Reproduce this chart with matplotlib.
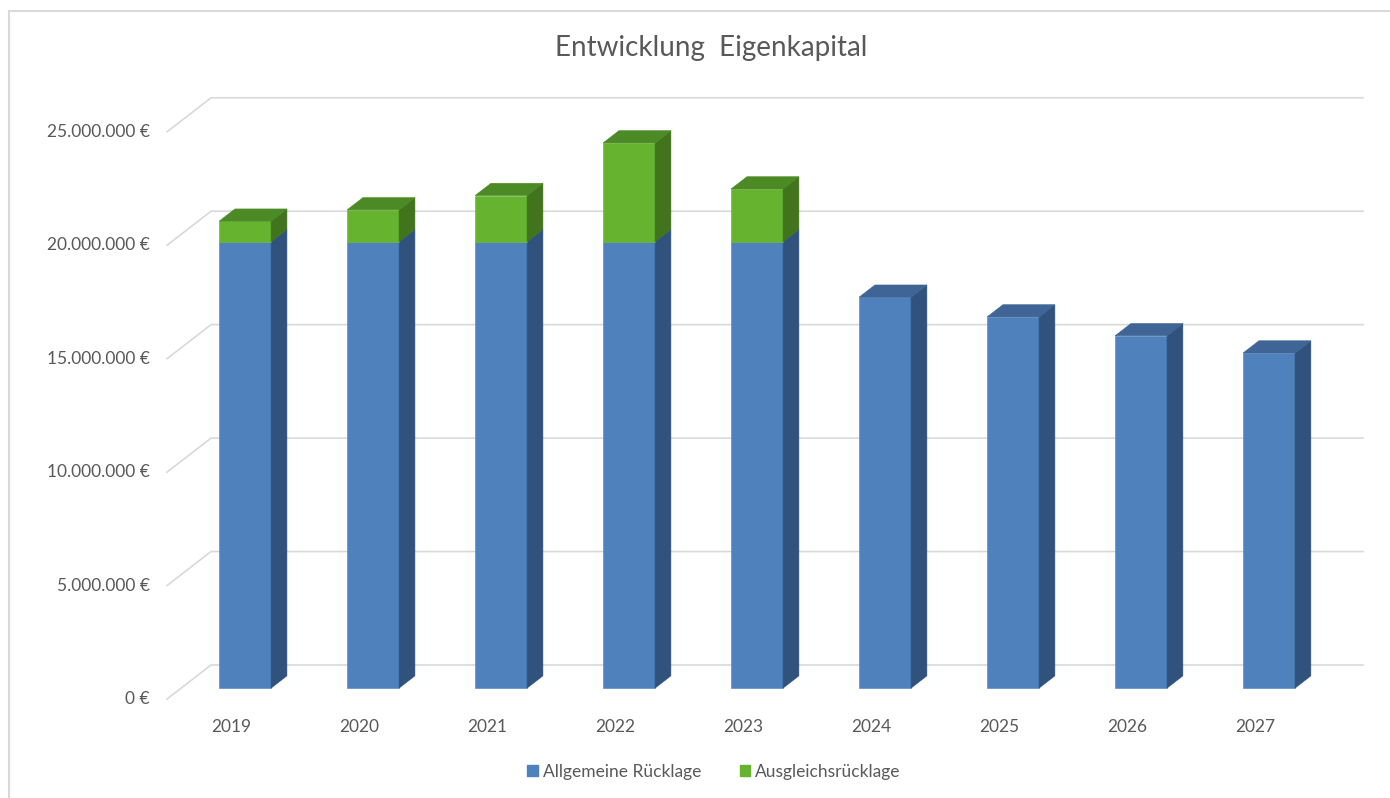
import matplotlib.pyplot as plt
from matplotlib.patches import Polygon, Rectangle, Patch

plt.rcParams['font.family'] = ['Lato', 'DejaVu Sans']

# data (euros)
years = ["2019", "2020", "2021", "2022", "2023", "2024", "2025", "2026", "2027"]
allgemeine = [19680000, 19680000, 19680000, 19680000, 19680000,
              17230000, 16360000, 15530000, 14770000]
ausgleich = [900000, 1400000, 2030000, 4350000, 2320000, 0, 0, 0, 0]
ticks = [0, 5000000, 10000000, 15000000, 20000000, 25000000]
tick_labels = ["0 €", "5.000.000 €", "10.000.000 €", "15.000.000 €",
               "20.000.000 €", "25.000.000 €"]

text_col = "#595959"
grid_col = "#d9d9d9"
blue = ("#4F81BD", "#31527C", "#3E6596")    # front, side, top
green = ("#65B32E", "#41741D", "#4C8A25")

# oblique "3d" depth vector, per unit of depth
kx = 0.34375
ky = 1.5e6
bw = 0.406
d0, d1 = 0.32, 0.68

fig = plt.figure(figsize=(13.9, 7.98), dpi=100)
ax = fig.add_axes([0, 0, 1, 1])
ax.set_xlim(-1.805, 9.055)
ax.set_ylim(-4.363e6, 30.81e6)
ax.axis('off')

# gridlines: left wall + back wall
xl, xr = -0.5, len(years) - 0.5
for v in ticks:
    ax.plot([xl, xl + kx, xr + kx], [v, v + ky, v + ky],
            color=grid_col, lw=1.2, zorder=1, solid_joinstyle='miter')
for v, lab in zip(ticks, tick_labels):
    ax.text(xl - 0.133, v, lab, ha='right', va='center', fontsize=12.5, color=text_col)


def box(c, v0, v1, cols, top=True):
    xa = c - bw / 2
    xb = c + bw / 2
    front = [(xa + d0 * kx, v0 + d0 * ky), (xb + d0 * kx, v0 + d0 * ky),
             (xb + d0 * kx, v1 + d0 * ky), (xa + d0 * kx, v1 + d0 * ky)]
    side = [(xb + d0 * kx, v0 + d0 * ky), (xb + d1 * kx, v0 + d1 * ky),
            (xb + d1 * kx, v1 + d1 * ky), (xb + d0 * kx, v1 + d0 * ky)]
    ax.add_patch(Polygon(front, closed=True, fc=cols[0], ec=cols[0], lw=0.4, zorder=3))
    ax.add_patch(Polygon(side, closed=True, fc=cols[1], ec=cols[1], lw=0.4, zorder=3))
    if top:
        tp = [(xa + d0 * kx, v1 + d0 * ky), (xb + d0 * kx, v1 + d0 * ky),
              (xb + d1 * kx, v1 + d1 * ky), (xa + d1 * kx, v1 + d1 * ky)]
        ax.add_patch(Polygon(tp, closed=True, fc=cols[2], ec=cols[2], lw=0.4, zorder=3))


for i, (a, b) in enumerate(zip(allgemeine, ausgleich)):
    box(i, 0, a, blue, top=(b == 0))
    if b > 0:
        box(i, a, a + b, green)
    ax.text(i, -1.22e6, years[i], ha='center', va='center', fontsize=12.5, color=text_col)

fig.text(711 / 1390, 1 - 48 / 798, "Entwicklung  Eigenkapital", ha='center', va='center',
         fontsize=20, color=text_col)

handles = [Patch(color=blue[0], label="Allgemeine Rücklage"),
           Patch(color=green[0], label="Ausgleichsrücklage")]
fig.legend(handles=handles, loc='center', bbox_to_anchor=(714 / 1390, 1 - 772 / 798),
           ncol=2, frameon=False, fontsize=12.5, handlelength=0.6, handleheight=0.6,
           handletextpad=0.3, columnspacing=2.2, labelcolor=text_col)

# chart border
fig.add_artist(Rectangle((9 / 1390, -0.05), 1.1, 1 - 11 / 798 + 0.05,
                         transform=fig.transFigure, fill=False, ec=grid_col, lw=1.5))

fig.savefig("out.png", dpi=100)
